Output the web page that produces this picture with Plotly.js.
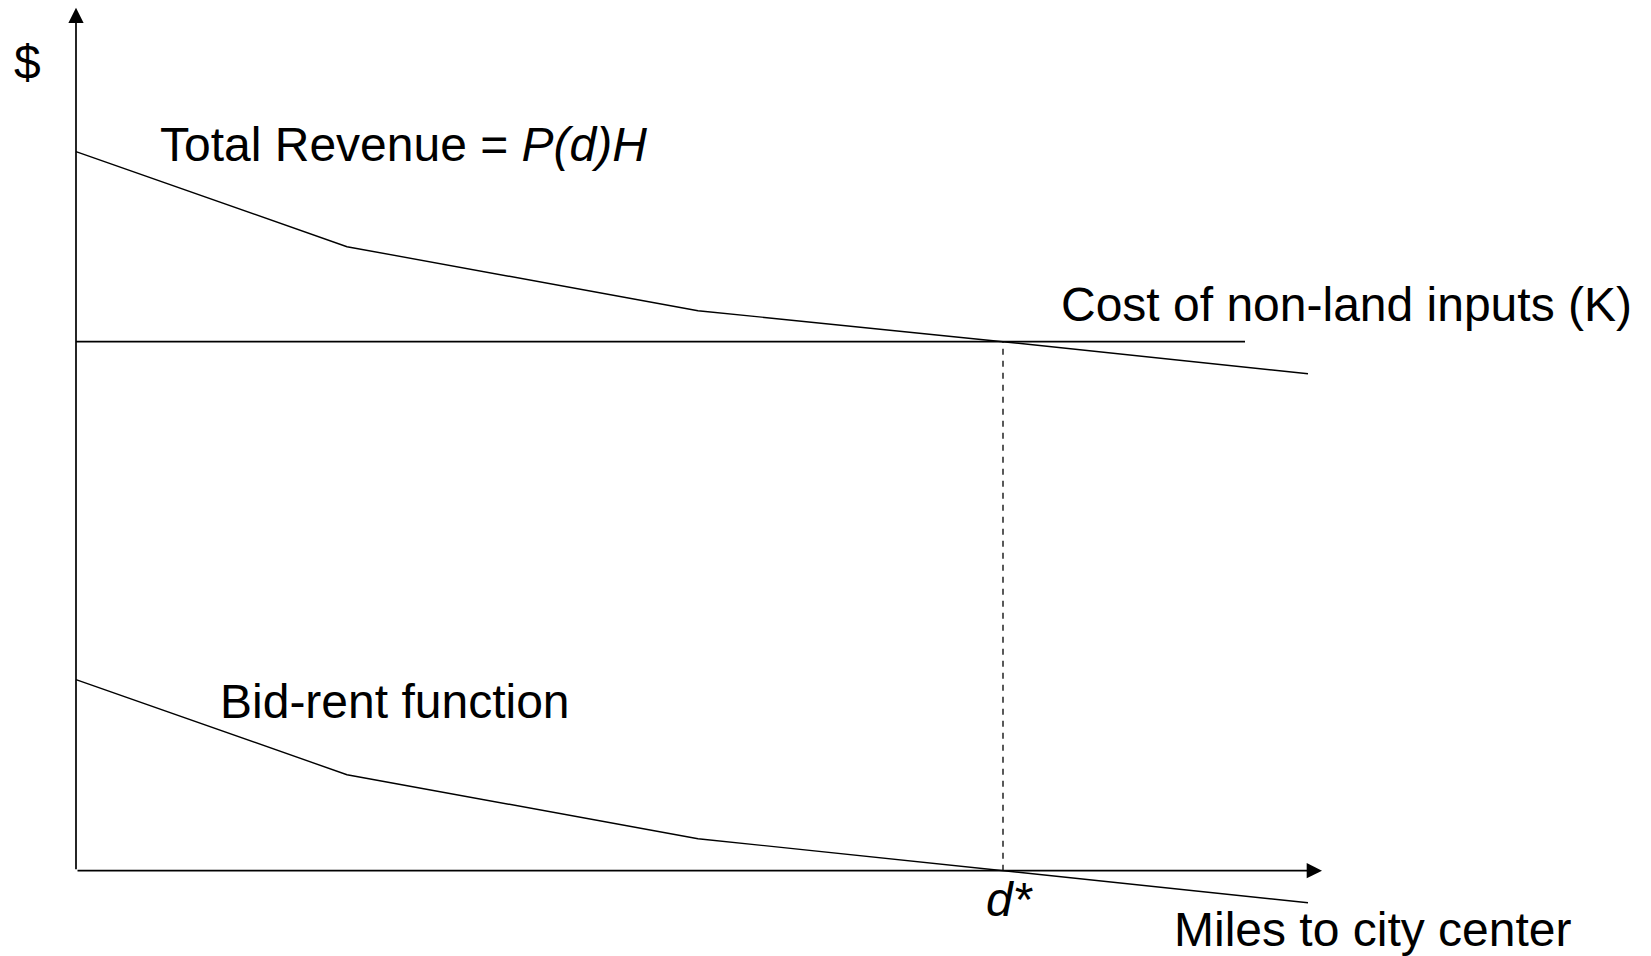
<!DOCTYPE html>
<html>
<head>
<meta charset="utf-8">
<script src="https://cdn.plot.ly/plotly-3.0.1.min.js"></script>
<style>
  html, body { margin: 0; padding: 0; background: #ffffff; }
  #chart { width: 1651px; height: 956px; }
</style>
</head>
<body>
<div id="chart"></div>
<script>
// ---- data ----
const miles        = [0, 2.71, 6.22, 9.27, 12.32];   // distance to city centre
const totalRevenue = [7.19, 6.24, 5.60, 5.29, 4.97]; // P(d)H
const bidRent      = [1.91, 0.96, 0.32, 0.00, -0.32];
const costK        = 5.29;                           // cost of non-land inputs
const costKEnd     = 11.69;
const dStar        = 9.27;
const xAxisEnd     = 12.46;
const yAxisEnd     = 8.63;

const labels = {
  dollar: "$",
  revenue: "Total Revenue = <i>P(d)H</i>",
  cost: "Cost of non-land inputs (K)",
  bidrent: "Bid-rent function",
  dstar: "<i>d*</i>",
  xlabel: "Miles to city center"
};

const FONT = "Liberation Sans, Arial, Helvetica, sans-serif";
const FS = 48;

const traces = [
  { x: miles, y: totalRevenue, mode: "lines", line: { color: "#000", width: 1.4 }, hoverinfo: "skip" },
  { x: [0, costKEnd], y: [costK, costK], mode: "lines", line: { color: "#000", width: 1.7 }, hoverinfo: "skip" },
  { x: miles, y: bidRent, mode: "lines", line: { color: "#000", width: 1.4 }, hoverinfo: "skip" },
  { x: [dStar, dStar], y: [0, costK], mode: "lines", line: { color: "#000", width: 1.3, dash: "6px,6px" }, hoverinfo: "skip" }
];

function arrowAnn(x, y, ax, ay) {
  return {
    x: x, y: y, ax: ax, ay: ay, xref: "x", yref: "y", axref: "x", ayref: "y",
    text: "", showarrow: true, arrowhead: 2, arrowwidth: 1.7, arrowsize: 1.8,
    arrowcolor: "#000", standoff: 0, startstandoff: 0, font: { size: 1 }
  };
}
function textAnn(x, y, text, xanchor) {
  return {
    x: x, y: y, xref: "x", yref: "y", text: text, showarrow: false,
    xanchor: xanchor, yanchor: "middle", font: { family: FONT, size: FS, color: "#000" }
  };
}

const layout = {
  width: 1651, height: 956,
  margin: { l: 0, r: 0, t: 0, b: 0 },
  paper_bgcolor: "#ffffff", plot_bgcolor: "#ffffff",
  showlegend: false,
  xaxis: { range: [-0.76, 15.75], visible: false, fixedrange: true },
  yaxis: { range: [-0.853, 8.707], visible: false, fixedrange: true },
  annotations: [
    arrowAnn(xAxisEnd, 0, 0, 0),
    arrowAnn(0, yAxisEnd, 0, 0),
    textAnn(-0.49, 8.08, labels.dollar, "center"),
    textAnn(0.82, 7.26, labels.revenue, "left"),
    textAnn(9.83, 5.66, labels.cost, "left"),
    textAnn(1.42, 1.69, labels.bidrent, "left"),
    textAnn(9.33, -0.29, labels.dstar, "center"),
    textAnn(10.96, -0.59, labels.xlabel, "left")
  ]
};

Plotly.newPlot("chart", traces, layout, { displayModeBar: false, staticPlot: true });
</script>
</body>
</html>
